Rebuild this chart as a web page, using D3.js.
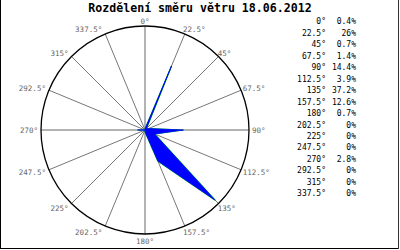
<!DOCTYPE html>
<html><head><meta charset="utf-8">
<script src="https://cdn.jsdelivr.net/npm/d3@7"></script>
<style>body{margin:0;background:#fff}svg{display:block}</style>
</head><body>
<script>
const titleText = "Rozdělení směru větru 18.06.2012";
const directions = [0, 22.5, 45, 67.5, 90, 112.5, 135, 157.5, 180, 202.5, 225, 247.5, 270, 292.5, 315, 337.5];
const dirLabels = ["0°","22.5°","45°","67.5°","90°","112.5°","135°","157.5°","180°","202.5°","225°","247.5°","270°","292.5°","315°","337.5°"];
const values = [0.4, 26, 0.7, 1.4, 14.4, 3.9, 37.2, 12.6, 0.7, 0, 0, 0, 2.8, 0, 0, 0];
const valueLabels = ["0.4%","26%","0.7%","1.4%","14.4%","3.9%","37.2%","12.6%","0.7%","0%","0%","0%","2.8%","0%","0%","0%"];

const W = 400, H = 250, cx = 145, cy = 130, R = 104;
const svg = d3.select("body").append("svg").attr("width", W).attr("height", H);
const mono = "'DejaVu Sans Mono', 'Liberation Mono', monospace";

// frame
svg.append("line").attr("x1",0.5).attr("x2",0.5).attr("y1",0).attr("y2",249).attr("stroke","#000");
svg.append("line").attr("x1",0).attr("x2",399).attr("y1",248.5).attr("y2",248.5).attr("stroke","#000");
svg.append("line").attr("x1",398.5).attr("x2",398.5).attr("y1",0).attr("y2",249).attr("stroke","#333");

// title
svg.append("text").attr("x",200).attr("y",12).attr("text-anchor","middle")
  .attr("font-family",mono).attr("font-weight","bold").attr("font-size","11.6px")
  .attr("fill","#000").text(titleText);

const g = svg.append("g").attr("transform",`translate(${cx},${cy})`);
const ang = d3.scaleLinear().domain([0,360]).range([0,2*Math.PI]);
const r = d3.scaleLinear().domain([0,39]).range([0,R]);

// spokes
g.selectAll("line.spoke").data(directions).join("line").attr("class","spoke")
  .attr("x1",0).attr("y1",0)
  .attr("x2",d=>R*Math.sin(ang(d))).attr("y2",d=>-R*Math.cos(ang(d)))
  .attr("stroke",(d)=> d%90===0 ? "#666" : "#777").attr("stroke-width",1);

// circle
g.append("circle").attr("r",R).attr("fill","none").attr("stroke","#000").attr("stroke-width",1.3);

// rose polygon
const line = d3.lineRadial().angle((d,i)=>ang(directions[i])).radius(d=>r(d)).curve(d3.curveLinearClosed);
g.append("path").attr("d",line(values)).attr("fill","none").attr("stroke","#00e000").attr("stroke-width",1.2);
g.append("path").attr("d",line(values)).attr("fill","#0000ff").attr("stroke","#0000ff").attr("stroke-width",0.8);

// angle labels
g.selectAll("text.al").data(directions).join("text").attr("class","al")
  .attr("font-family",mono).attr("font-size","7.5px").attr("fill","#666")
  .attr("text-anchor",d=>{const s=Math.sin(ang(d)); return s>0.01?"start":(s<-0.01?"end":"middle");})
  .attr("x",d=>{const s=Math.sin(ang(d)); return R*s + (s>0.01?(-2+5*Math.pow(s,4)):(s<-0.01?-3:0));})
  .attr("y",d=>{const c=Math.cos(ang(d)); return -(c>0?R+5:R+7)*c;})
  .attr("dy","0.35em")
  .text((d,i)=>dirLabels[i]);

// legend
const leg = svg.append("g").attr("font-family",mono).attr("font-size","8px").attr("fill","#000");
const ly = d3.scaleLinear().domain([0,15]).range([21.5,193.5]);
leg.selectAll("text.ld").data(dirLabels).join("text").attr("class","ld")
  .attr("x",326).attr("y",(d,i)=>ly(i)).attr("dy","0.35em").attr("text-anchor","end").text(d=>d);
leg.selectAll("text.lv").data(valueLabels).join("text").attr("class","lv")
  .attr("x",356).attr("y",(d,i)=>ly(i)).attr("dy","0.35em").attr("text-anchor","end").text(d=>d);
</script>
</body></html>
